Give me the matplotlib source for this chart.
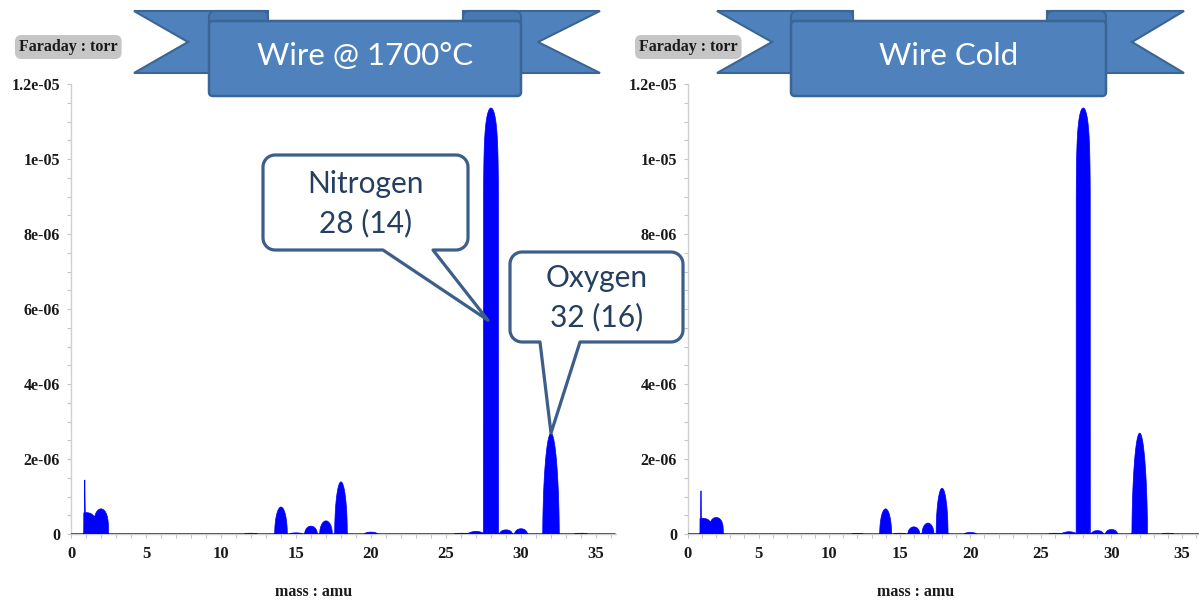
import numpy as np
import matplotlib
matplotlib.use("Agg")
import matplotlib.pyplot as plt
from matplotlib.patches import FancyBboxPatch, Polygon, PathPatch
from matplotlib.path import Path
from matplotlib.ticker import MultipleLocator, FuncFormatter

# ---------------- data ----------------
masses = [1, 2, 12, 14, 15, 16, 17, 18, 20, 26, 27, 28, 29, 30, 32, 34]
hot_heights = [0.57e-6, 0.67e-6, 0.02e-6, 0.72e-6, 0.03e-6, 0.21e-6, 0.35e-6, 1.39e-6,
               0.05e-6, 0.02e-6, 0.07e-6, 1.136e-5, 0.11e-6, 0.14e-6, 2.69e-6, 0.02e-6]
cold_heights = [0.42e-6, 0.44e-6, 0.01e-6, 0.67e-6, 0.02e-6, 0.19e-6, 0.29e-6, 1.22e-6,
                0.04e-6, 0.02e-6, 0.06e-6, 1.136e-5, 0.09e-6, 0.12e-6, 2.69e-6, 0.02e-6]
scan_start = 0.85            # amu, first point of the scan
spike_mass = 0.92            # artefact at scan start
hot_spike = 1.45e-6
cold_spike = 1.22e-6

panel_titles = ["Wire @ 1700°C", "Wire Cold"]
y_label = "Faraday : torr"
x_label = "mass : amu"
callouts = [("Nitrogen\n28 (14)", 28, 5.7e-6), ("Oxygen\n32 (16)", 32, 2.69e-6)]
hidden_cold_ticks = [6e-6]   # covered by the Oxygen callout in the picture

# ---------------- styling helpers ----------------
W, H, DPI = 1199, 601, 100
BLUE = "#0000FF"
RIB = "#4F81BD"
RIB_EDGE = "#3A6594"
RIB_DARK = "#4878B2"
CALL_EDGE = "#3B5F8A"
CALL_TEXT = "#243F60"
SERIF = "Liberation Serif"
SANS = "Lato"

# peak half width (amu) and exponent of the dome profile, per mass
shape = {1: (0.62, 0.15), 2: (0.5, 0.3), 27: (0.6, 1.0), 28: (0.5, 0.06), 32: (0.55, 0.55)}


def profile(x, heights, spike):
    y = np.zeros_like(x)
    for m, h in zip(masses, heights):
        hw, p = shape.get(m, (0.42, 0.5))
        u = (x - m) / hw
        d = np.where(np.abs(u) < 1, h * np.clip(1 - u ** 2, 0, 1) ** p, 0.0)
        y = np.maximum(y, d)
    sp = spike * np.clip(1 - np.abs(x - spike_mass) / 0.05, 0, 1)
    y = np.maximum(y, sp)
    y[x < scan_start] = 0.0
    return y


fig = plt.figure(figsize=(W / DPI, H / DPI), dpi=DPI)
fig.patch.set_facecolor("white")


def make_axes(x0px, x1px, xmax, heights, spike, hidden=()):
    top, bot = 84, 534
    ax = fig.add_axes([x0px / W, (H - bot) / H, (x1px - x0px) / W, (bot - top) / H])
    x = np.linspace(0, xmax, 6000)
    y = profile(x, heights, spike)
    ax.fill(np.r_[x, x[::-1]], np.r_[y, np.zeros_like(y)], color=BLUE, lw=0.5,
            ec=BLUE, zorder=3)
    ax.axhline(0, color="#9090ff", lw=1.0, alpha=0.5, zorder=2)
    ax.set_xlim(0, xmax)
    ax.set_ylim(0, 1.2e-5)
    for s in ("top", "right"):
        ax.spines[s].set_visible(False)
    for s in ("left", "bottom"):
        ax.spines[s].set_color("#d0d0d0")
        ax.spines[s].set_linewidth(1.0)
    ax.xaxis.set_major_locator(MultipleLocator(5))
    ax.xaxis.set_minor_locator(MultipleLocator(1))
    ax.yaxis.set_major_locator(MultipleLocator(2e-6))
    ax.yaxis.set_minor_locator(MultipleLocator(5e-7))

    def fmt(v, p):
        if abs(v) < 1e-12:
            return "0"
        if any(abs(v - hv) < 1e-12 for hv in hidden):
            return ""
        return "%g" % v

    ax.yaxis.set_major_formatter(FuncFormatter(fmt))
    ax.tick_params(which="both", direction="out", color="#c4c4c4", width=0.8, length=3)
    ax.tick_params(axis="x", pad=6, labelsize=12)
    ax.tick_params(axis="y", pad=5, labelsize=11.5)
    for lab in ax.get_xticklabels() + ax.get_yticklabels():
        lab.set_fontfamily(SERIF)
        lab.set_fontweight("bold")
        lab.set_color("#1a1a1a")
    ax.patch.set_alpha(0)
    return ax


ax_hot = make_axes(71, 71 + 36.3 * 15, 36.3, hot_heights, hot_spike)
ax_cold = make_axes(688, 1199, 36.2, cold_heights, cold_spike, hidden_cold_ticks)

for cx in (314, 916):
    fig.text(cx / W, 1 - 592 / H, x_label, ha="center", va="center",
             fontfamily=SERIF, fontweight="bold", fontsize=11.5, color="#1a1a1a")

# ---------------- overlay (banners, callouts, unit labels) ----------------
ov = fig.add_axes([0, 0, 1, 1], zorder=10)
ov.set_xlim(0, W)
ov.set_ylim(H, 0)
ov.axis("off")
ov.patch.set_alpha(0)

for xl in (19, 639):
    ov.text(xl, 47, y_label, ha="left", va="center", fontfamily=SERIF, fontweight="bold",
            fontsize=11.5, color="#1a1a1a", zorder=1,
            bbox=dict(boxstyle="round,pad=0.25,rounding_size=0.4", fc="#c6c6c6", ec="none"))


def banner(tip_l, notch_l, box_l, inner_l, inner_r, box_r, notch_r, tip_r, text):
    t, b, mid = 11, 73, 42
    for tip, notch, inner in ((tip_l, notch_l, inner_l), (tip_r, notch_r, inner_r)):
        ov.add_patch(Polygon([(tip, t), (inner, t), (inner, b), (tip, b), (notch, mid)],
                             closed=True, fc=RIB, ec=RIB_EDGE, lw=1.5, zorder=2,
                             joinstyle="miter"))
    for a, c in ((box_l, inner_l), (inner_r, box_r)):
        ov.add_patch(FancyBboxPatch((a, t), c - a, 22, boxstyle="round,pad=0,rounding_size=6",
                                    fc=RIB_DARK, ec=RIB_EDGE, lw=1.5, zorder=3))
    ov.add_patch(FancyBboxPatch((box_l, 21), box_r - box_l, 75,
                                boxstyle="round,pad=0,rounding_size=4",
                                fc=RIB, ec=RIB_EDGE, lw=1.8, zorder=4))
    ov.text((box_l + box_r) / 2, 56, text, ha="center", va="center", color="white",
            fontfamily=SANS, fontsize=22.5, zorder=5)


banner(134, 188, 209, 268, 463, 521, 538, 600, panel_titles[0])
banner(717, 772, 791, 853, 1047, 1106, 1132, 1184, panel_titles[1])


def callout(x0, y0, x1, y1, pb_l, pb_r, tip, text, r=12):
    verts = []

    def arc(cx, cy, a0, a1):
        for t in np.linspace(np.radians(a0), np.radians(a1), 10):
            verts.append((cx + r * np.cos(t), cy + r * np.sin(t)))

    verts.append((x0 + r, y0))
    verts.append((x1 - r, y0))
    arc(x1 - r, y0 + r, -90, 0)
    verts.append((x1, y1 - r))
    arc(x1 - r, y1 - r, 0, 90)
    verts.append((pb_r, y1))
    verts.append(tip)
    verts.append((pb_l, y1))
    verts.append((x0 + r, y1))
    arc(x0 + r, y1 - r, 90, 180)
    verts.append((x0, y0 + r))
    arc(x0 + r, y0 + r, 180, 270)
    verts.append(verts[0])
    codes = [Path.MOVETO] + [Path.LINETO] * (len(verts) - 2) + [Path.CLOSEPOLY]
    ov.add_patch(PathPatch(Path(verts, codes), fc="white", ec=CALL_EDGE, lw=2.3,
                           joinstyle="round", zorder=6))
    ov.text((x0 + x1) / 2, (y0 + y1) / 2 + 1, text, ha="center", va="center",
            color=CALL_TEXT, fontfamily=SANS, fontsize=21.5, linespacing=1.45, zorder=7)


def data_to_ov(ax, xv, yv):
    dx, dy = ax.transData.transform((xv, yv))
    return (dx, H - dy)


n_text, n_m, n_v = callouts[0]
o_text, o_m, o_v = callouts[1]
n_tip = data_to_ov(ax_hot, n_m, n_v)
callout(263, 155, 468, 250, 383, 433, (n_tip[0] - 3, n_tip[1]), n_text)
callout(510, 252, 683, 342, 540, 580, data_to_ov(ax_hot, o_m, o_v), o_text)

fig.savefig("out.png", dpi=DPI, facecolor="white")
